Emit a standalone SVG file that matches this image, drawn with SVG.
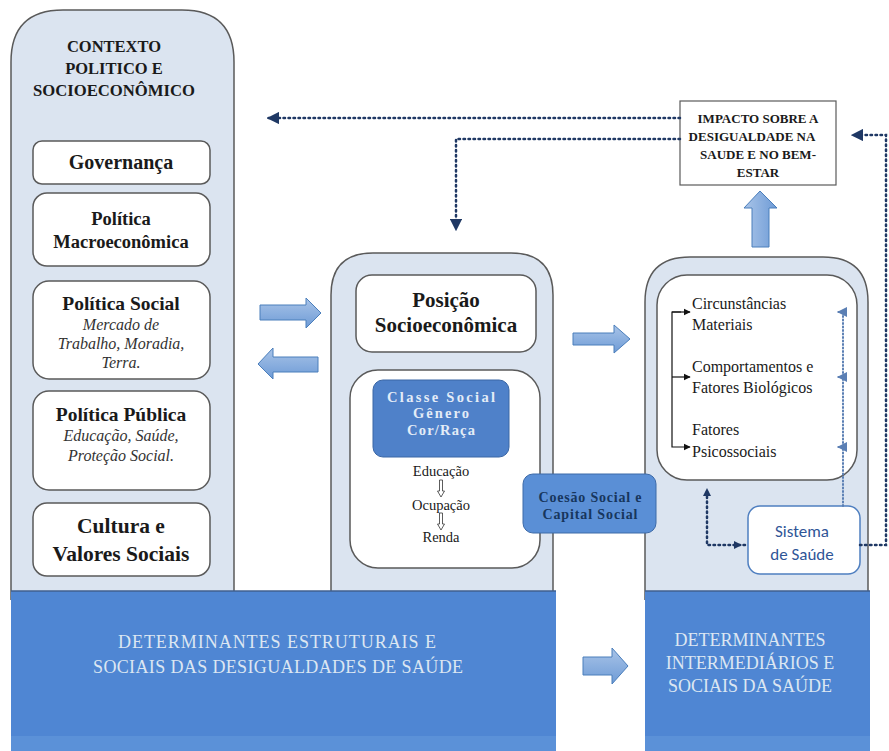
<svg xmlns="http://www.w3.org/2000/svg" width="889" height="751" viewBox="0 0 889 751">
<defs>
<style>
.panel{fill:#dbe4f0;stroke:#5a5a5a;stroke-width:1.5}
.box{fill:#ffffff;stroke:#5a5a5a;stroke-width:1.5}
.band{fill:#4f86d3}
.t{fill:#1a1a1a;text-anchor:middle}
.l{fill:#1a1a1a;font-size:16px}
.b{font-weight:bold}
.i{font-style:italic;fill:#333}
.w{fill:#e3ecf7}
.n{fill:#17365d}
.bt{fill:#dce6f2;text-anchor:middle;font-size:18px}
.ss{fill:#2f5597;text-anchor:middle;font-size:17px}
.dot{fill:none;stroke:#1f3864;stroke-width:2.5;stroke-dasharray:1.5 3.5;stroke-linecap:round}
.dotl{fill:none;stroke:#5b7fb4;stroke-width:2;stroke-dasharray:1 2.5;stroke-linecap:round}
.blk{fill:url(#ag);stroke:#4a7ebb;stroke-width:1}
.blkv{fill:url(#agv);stroke:#4a7ebb;stroke-width:1}
.ka{fill:none;stroke:#111;stroke-width:1.2}
</style>
<linearGradient id="ag" x1="0" y1="0" x2="0" y2="1"><stop offset="0" stop-color="#a9c4e8"/><stop offset="1" stop-color="#6e9bd6"/></linearGradient>
<linearGradient id="agv" x1="0" y1="0" x2="1" y2="0"><stop offset="0" stop-color="#a9c4e8"/><stop offset="1" stop-color="#6e9bd6"/></linearGradient>
<marker id="mn" viewBox="0 0 10 10" refX="9" refY="5" markerWidth="5" markerHeight="5" orient="auto"><path d="M0,0L10,5L0,10z" fill="#1f3864"/></marker>
<marker id="mb" viewBox="0 0 10 10" refX="9" refY="5" markerWidth="5" markerHeight="5" orient="auto"><path d="M0,0L10,5L0,10z" fill="#5b7fb4"/></marker>
<marker id="mk" viewBox="0 0 10 10" refX="9" refY="5" markerWidth="6" markerHeight="6" orient="auto"><path d="M0,0L10,5L0,10z" fill="#111"/></marker>
</defs>
<rect width="889" height="751" fill="#ffffff"/>

<g id="left-panel">
<path class="panel" d="M11,600 V62 Q11,10 63,10 H182 Q234,10 234,62 V600"/>
<text class="t b" font-family="'Liberation Serif', serif" font-size="16.5" x="114" y="52">CONTEXTO</text>
<text class="t b" font-family="'Liberation Serif', serif" font-size="16.5" x="114" y="74">POLITICO E</text>
<text class="t b" font-family="'Liberation Serif', serif" font-size="16.5" x="114" y="96" textLength="162" lengthAdjust="spacingAndGlyphs">SOCIOECONÔMICO</text>
</g>
<g id="governanca"><rect class="box" x="33" y="141" width="177" height="43" rx="9"/>
<text class="t b" font-family="'Liberation Serif', serif" font-size="20" x="121" y="169">Governança</text></g>
<g id="macro"><rect class="box" x="33" y="193" width="177" height="73" rx="14"/>
<text class="t b" font-family="'Liberation Serif', serif" font-size="18.5" x="121" y="225">Política</text>
<text class="t b" font-family="'Liberation Serif', serif" font-size="18.5" x="121" y="248">Macroeconômica</text></g>
<g id="politica-social"><rect class="box" x="33" y="281" width="177" height="98" rx="16"/>
<text class="t b" font-family="'Liberation Serif', serif" font-size="19.5" x="121" y="310">Política Social</text>
<text class="t i" font-family="'Liberation Serif', serif" font-size="16" x="121" y="330">Mercado de</text>
<text class="t i" font-family="'Liberation Serif', serif" font-size="16" x="121" y="349">Trabalho, Moradia,</text>
<text class="t i" font-family="'Liberation Serif', serif" font-size="16" x="121" y="368">Terra.</text></g>
<g id="politica-publica"><rect class="box" x="33" y="391" width="177" height="99" rx="16"/>
<text class="t b" font-family="'Liberation Serif', serif" font-size="19.5" x="121" y="421">Política Pública</text>
<text class="t i" font-family="'Liberation Serif', serif" font-size="16" x="121" y="441">Educação, Saúde,</text>
<text class="t i" font-family="'Liberation Serif', serif" font-size="16" x="121" y="461">Proteção Social.</text></g>
<g id="cultura"><rect class="box" x="33" y="503" width="177" height="73" rx="14"/>
<text class="t b" font-family="'Liberation Serif', serif" font-size="21.5" x="121" y="533">Cultura e</text>
<text class="t b" font-family="'Liberation Serif', serif" font-size="21.5" x="121" y="561">Valores Sociais</text></g>

<g id="middle-panel">
<path class="panel" d="M331,600 V295 Q331,253 373,253 H511 Q553,253 553,295 V600"/>
</g>
<g id="posicao"><rect class="box" x="356" y="275" width="180" height="77" rx="16"/>
<text class="t b" font-family="'Liberation Serif', serif" font-size="21" x="446" y="307">Posição</text>
<text class="t b" font-family="'Liberation Serif', serif" font-size="21" x="446" y="332">Socioeconômica</text></g>
<g id="estratificacao"><rect class="box" x="350" y="370" width="190" height="198" rx="28"/>
<rect x="373" y="380" width="136" height="77" rx="10" fill="#4f81c9" stroke="#3a66a5" stroke-width="1"/>
<text class="t b w" font-family="'Liberation Serif', serif" font-size="14.5" x="441" y="402" textLength="108" lengthAdjust="spacing">Classe Social</text>
<text class="t b w" font-family="'Liberation Serif', serif" font-size="14.5" x="441" y="418" textLength="56" lengthAdjust="spacing">Gênero</text>
<text class="t b w" font-family="'Liberation Serif', serif" font-size="14.5" x="441" y="435" textLength="68" lengthAdjust="spacing">Cor/Raça</text>
<text class="t" font-family="'Liberation Serif', serif" font-size="14.5" x="441" y="476">Educação</text>
<path d="M439.5,480 V491 H437.5 L441,497 L444.5,491 H442.5 V480 Z" fill="none" stroke="#333" stroke-width="0.8"/>
<text class="t" font-family="'Liberation Serif', serif" font-size="14.5" x="441" y="510">Ocupação</text>
<path d="M439.5,513 V524 H437.5 L441,530 L444.5,524 H442.5 V513 Z" fill="none" stroke="#333" stroke-width="0.8"/>
<text class="t" font-family="'Liberation Serif', serif" font-size="14.5" x="441" y="542">Renda</text></g>

<g id="right-panel">
<path class="panel" d="M645,600 V302 Q645,257 690,257 H823 Q868,257 868,302 V600"/>
</g>
<g id="intermediarios"><rect class="box" x="657" y="275" width="200" height="205" rx="30"/>
<text class="l" font-family="'Liberation Serif', serif" x="692" y="309">Circunstâncias</text>
<text class="l" font-family="'Liberation Serif', serif" x="692" y="330">Materiais</text>
<text class="l" font-family="'Liberation Serif', serif" x="692" y="372">Comportamentos e</text>
<text class="l" font-family="'Liberation Serif', serif" x="692" y="393">Fatores Biológicos</text>
<text class="l" font-family="'Liberation Serif', serif" x="692" y="435">Fatores</text>
<text class="l" font-family="'Liberation Serif', serif" x="692" y="457">Psicossociais</text>
<path class="ka" d="M681,312 H672 V447 H690" marker-end="url(#mk)"/>
<path class="ka" d="M672,312 H690" marker-end="url(#mk)"/>
<path class="ka" d="M672,377 H690" marker-end="url(#mk)"/>
</g>
<g id="sistema"><rect x="748" y="506" width="112" height="68" rx="12" fill="#ffffff" stroke="#4f7fc0" stroke-width="1.5"/>
<text class="ss" font-family="Carlito, 'Liberation Sans', sans-serif" x="802" y="537">Sistema</text>
<text class="ss" font-family="Carlito, 'Liberation Sans', sans-serif" x="802" y="560">de Saúde</text></g>

<g id="band-estruturais">
<rect class="band" x="11" y="591" width="545" height="160"/>
<line x1="11" y1="591" x2="556" y2="591" stroke="#3f5f8f" stroke-width="1.5"/>
<rect x="11" y="736" width="545" height="15" fill="#5b91d8"/>
<text class="bt" font-family="'Liberation Serif', serif" x="277" y="648" textLength="318" lengthAdjust="spacing">DETERMINANTES ESTRUTURAIS E</text>
<text class="bt" font-family="'Liberation Serif', serif" x="278" y="673" textLength="370" lengthAdjust="spacing">SOCIAIS DAS DESIGUALDADES DE SAÚDE</text>
</g>
<g id="band-intermediarios">
<rect class="band" x="645" y="591" width="225" height="160"/>
<line x1="645" y1="591" x2="870" y2="591" stroke="#3f5f8f" stroke-width="1.5"/>
<rect x="645" y="736" width="225" height="15" fill="#5b91d8"/>
<text class="bt" font-family="'Liberation Serif', serif" x="750" y="646">DETERMINANTES</text>
<text class="bt" font-family="'Liberation Serif', serif" x="750" y="669">INTERMEDIÁRIOS E</text>
<text class="bt" font-family="'Liberation Serif', serif" x="750" y="692">SOCIAIS DA SAÚDE</text>
</g>

<g id="coesao"><rect x="523" y="474" width="133" height="59" rx="10" fill="#5a8fd6" stroke="#3d6aa8" stroke-width="1"/>
<text class="t b n" font-family="'Liberation Serif', serif" font-size="14" x="590" y="502" textLength="103" lengthAdjust="spacing">Coesão Social e</text>
<text class="t b n" font-family="'Liberation Serif', serif" font-size="14" x="590" y="519" textLength="95" lengthAdjust="spacing">Capital Social</text></g>

<g id="impacto"><rect x="680" y="101" width="156" height="84" fill="#ffffff" stroke="#5a5a5a" stroke-width="1.2"/>
<text class="t b" font-family="'Liberation Serif', serif" font-size="13" x="758" y="123">IMPACTO SOBRE A</text>
<text class="t b" font-family="'Liberation Serif', serif" font-size="13" x="752" y="141">DESIGUALDADE NA</text>
<text class="t b" font-family="'Liberation Serif', serif" font-size="13" x="758" y="159">SAUDE E NO BEM-</text>
<text class="t b" font-family="'Liberation Serif', serif" font-size="13" x="758" y="177">ESTAR</text></g>

<g id="connectors">
<path class="blk" d="M260,305 H306 V298 L321,313 L306,328 V320 H260 Z"/>
<path class="blk" d="M318,357 H273 V348 L258,364 L273,379 V372 H318 Z"/>
<path class="blk" d="M573,333 H614 V325 L630,339 L614,353 V345 H573 Z"/>
<path class="blk" d="M583,657 H612 V648 L628,666 L612,684 V675 H583 Z"/>
<path class="blkv" d="M752,247 V208 H744 L760,191 L777,208 H769 V247 Z"/>
<path class="dot" d="M680,118 H268" marker-end="url(#mn)"/>
<path class="dot" d="M680,139 H456 V230" marker-end="url(#mn)"/>
<path class="dot" d="M860,545 H886 V135 H852" marker-end="url(#mn)"/>
<path class="dot" d="M745,545 H707 V491"/>
<path d="M707,488 L703,496 L711,496 Z" fill="#1f3864"/>
<path d="M742,545 L734,541 L734,549 Z" fill="#1f3864"/>
<path class="dotl" d="M843,506 V312"/>
<path class="dotl" d="M843,312 H838" marker-end="url(#mb)"/>
<path class="dotl" d="M843,377 H838" marker-end="url(#mb)"/>
<path class="dotl" d="M843,447 H838" marker-end="url(#mb)"/>
</g>
</svg>
